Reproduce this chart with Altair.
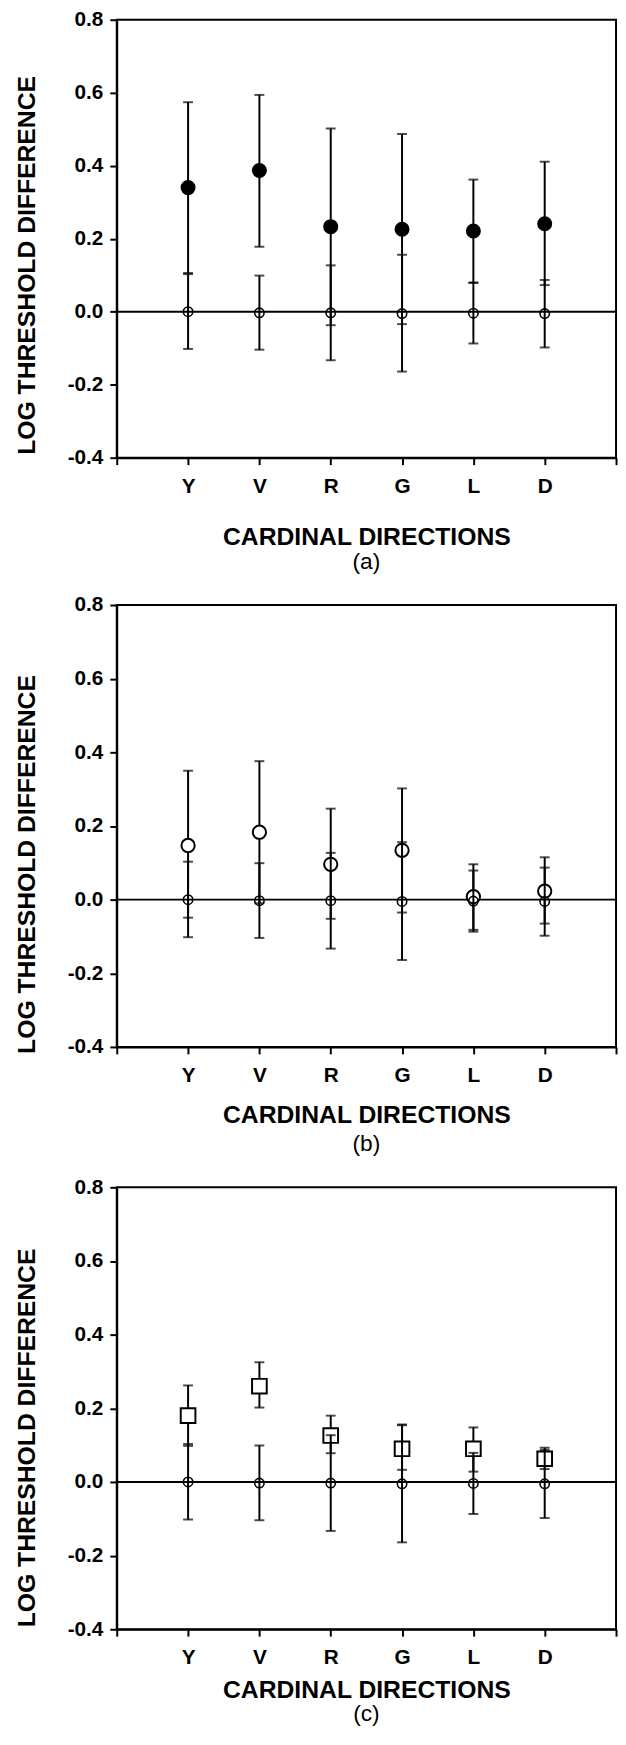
import altair as alt
import pandas as pd

categories = ["Y", "V", "R", "G", "L", "D"]

# control condition (small open circles), same in all three panels
base_mean = [0.0, -0.003, -0.003, -0.005, -0.004, -0.005]
base_lo = [-0.102, -0.104, -0.133, -0.164, -0.087, -0.098]
base_hi = [0.103, 0.099, 0.127, 0.156, 0.079, 0.087]

# panel (a): filled circles
a_mean = [0.340, 0.387, 0.233, 0.226, 0.221, 0.241]
a_lo = [0.106, 0.178, -0.037, -0.034, 0.080, 0.073]
a_hi = [0.574, 0.594, 0.502, 0.487, 0.362, 0.411]

# panel (b): open circles
b_mean = [0.147, 0.183, 0.096, 0.134, 0.008, 0.023]
b_lo = [-0.049, -0.010, -0.052, -0.035, -0.082, -0.065]
b_hi = [0.350, 0.376, 0.247, 0.302, 0.096, 0.115]

# panel (c): open squares
c_mean = [0.180, 0.260, 0.126, 0.090, 0.090, 0.063]
c_lo = [0.098, 0.202, 0.078, 0.033, 0.028, 0.035]
c_hi = [0.262, 0.325, 0.180, 0.154, 0.148, 0.093]

y_ticks = [-0.4, -0.2, 0.0, 0.2, 0.4, 0.6, 0.8]
x_ticks = list(range(0, len(categories) + 2))

FONT = "Liberation Sans"
label_list = "[''," + ",".join("'%s'" % c for c in categories) + ",'']"
x_label_expr = label_list + "[datum.value]"
y_label_expr = "datum.value < 0 ? '-' + format(-datum.value, '.1f') : format(datum.value, '.1f')"

W = 505


def panel(mean, lo, hi, shape, filled, size, h, x_title_pad, title_y, caption, cap_offset):
    df = pd.DataFrame({
        "pos": list(range(1, len(categories) + 1)),
        "cat": categories,
        "bmean": base_mean, "blo": base_lo, "bhi": base_hi,
        "mean": mean, "lo": lo, "hi": hi,
    })
    xscale = alt.Scale(domain=[0, len(categories) + 1], nice=False, zero=False)
    yscale = alt.Scale(domain=[-0.4, 0.8], nice=False, zero=False)
    xaxis = alt.Axis(values=x_ticks, labelExpr=x_label_expr, title="CARDINAL DIRECTIONS",
                     titlePadding=x_title_pad, labelPadding=11)
    yaxis = alt.Axis(values=y_ticks, labelExpr=y_label_expr, title="LOG THRESHOLD DIFFERENCE",
                     titleY=title_y, labelPadding=7, titlePadding=28)

    def X():
        return alt.X("pos:Q", scale=xscale, axis=xaxis)

    def Y(f):
        return alt.Y(f + ":Q", scale=yscale, axis=yaxis)

    base = alt.Chart(df)
    zero = alt.Chart(pd.DataFrame({"zero": [0.0]})).mark_rule(color="black", strokeWidth=2).encode(
        y=Y("zero"))
    m_bar = base.mark_rule(color="black", strokeWidth=2).encode(x=X(), y=Y("lo"), y2="hi:Q")
    m_cap_lo = base.mark_tick(color="black", orient="horizontal", size=10, thickness=2).encode(x=X(), y=Y("lo"))
    m_cap_hi = base.mark_tick(color="black", orient="horizontal", size=10, thickness=2).encode(x=X(), y=Y("hi"))
    if filled:
        m_pt = base.mark_point(shape=shape, filled=True, color="black", size=size, opacity=1).encode(
            x=X(), y=Y("mean"))
    else:
        m_pt = base.mark_point(shape=shape, filled=True, fill="white", stroke="black", strokeWidth=2,
                               size=size, opacity=1, fillOpacity=1).encode(x=X(), y=Y("mean"))
    b_bar = base.mark_rule(color="black", strokeWidth=2).encode(x=X(), y=Y("blo"), y2="bhi:Q")
    b_cap_lo = base.mark_tick(color="black", orient="horizontal", size=10, thickness=2).encode(x=X(), y=Y("blo"))
    b_cap_hi = base.mark_tick(color="black", orient="horizontal", size=10, thickness=2).encode(x=X(), y=Y("bhi"))
    b_pt = base.mark_point(shape="circle", filled=False, color="black", strokeWidth=1.6, size=90,
                           opacity=1).encode(x=X(), y=Y("bmean"))

    return alt.layer(zero, m_bar, m_cap_lo, m_cap_hi, m_pt, b_bar, b_cap_lo, b_cap_hi, b_pt).properties(
        width=W, height=h,
        title=alt.TitleParams(caption, orient="bottom", fontSize=23, fontWeight="normal", font=FONT,
                              color="black", offset=cap_offset),
    )


pa = panel(a_mean, a_lo, a_hi, "circle", True, 230, 443, 28.5, 248, "(a)", 2.3)
pb = panel(b_mean, b_lo, b_hi, "circle", False, 180, 447, 17.7, 262, "(b)", 5.8)
pc = panel(c_mean, c_lo, c_hi, "square", False, 220, 447, 10, 253, "(c)", 1)

chart = alt.vconcat(pa, pb, pc, spacing=18).properties(
    padding={"left": 5, "top": -10, "right": 0, "bottom": -10}
).configure(background="white").configure_view(stroke="black", strokeWidth=2).configure_axis(
    grid=False,
    domainColor="black", domainWidth=2,
    tickColor="black", tickWidth=2, tickSize=7,
    labelFont=FONT, labelFontSize=21, labelFontWeight="bold", labelColor="black",
    titleFont=FONT, titleFontSize=25, titleFontWeight="bold", titleColor="black",
)

chart.save("out.html", embed_options={"renderer": "svg", "actions": False})
